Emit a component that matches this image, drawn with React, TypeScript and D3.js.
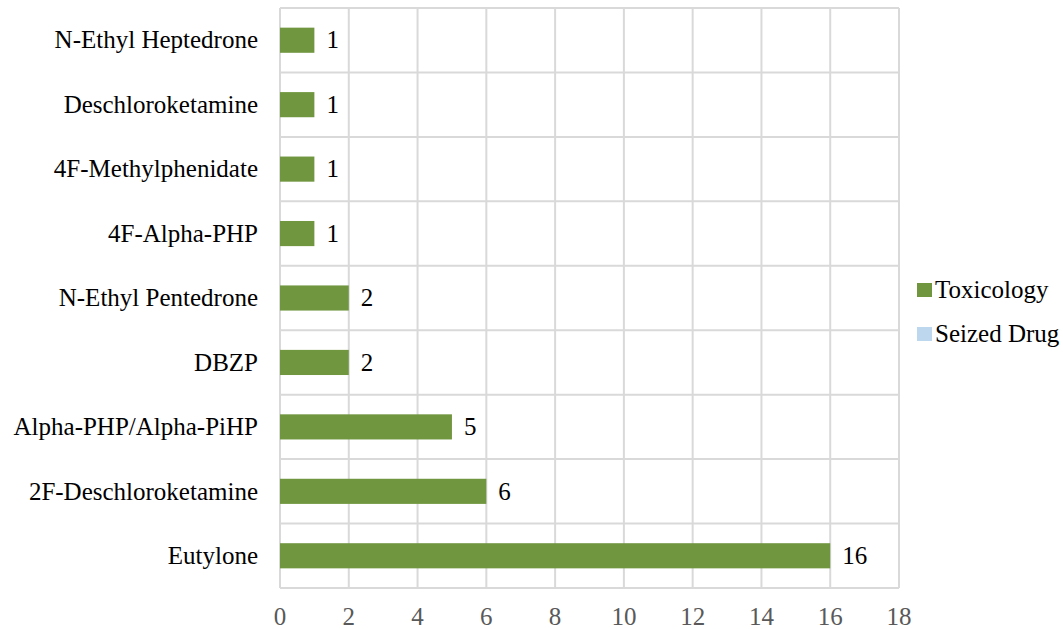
import * as d3 from "d3";
import React from "react";

const WIDTH = 1063;
const HEIGHT = 629;
const MARGIN = { top: 8, right: 164, bottom: 41, left: 280 };

const categories = [
    "N-Ethyl Heptedrone",
    "Deschloroketamine",
    "4F-Methylphenidate",
    "4F-Alpha-PHP",
    "N-Ethyl Pentedrone",
    "DBZP",
    "Alpha-PHP/Alpha-PiHP",
    "2F-Deschloroketamine",
    "Eutylone",
];
const toxicology = [1, 1, 1, 1, 2, 2, 5, 6, 16];
const seizedDrug = [0, 0, 0, 0, 0, 0, 0, 0, 0];
const xTicks = [0, 2, 4, 6, 8, 10, 12, 14, 16, 18];
const seriesNames = ["Toxicology", "Seized Drug"];
const seriesColors = ["#70963f", "#bdd7ee"];

const FONT = "Liberation Serif";
const FS = 25;

const App: React.FC = () => {
    const boundsWidth = WIDTH - MARGIN.left - MARGIN.right;
    const boundsHeight = HEIGHT - MARGIN.top - MARGIN.bottom;

    const xScale = d3.scaleLinear().domain([0, 18]).range([0, boundsWidth]);
    const yScale = d3
        .scaleBand<string>()
        .domain(categories)
        .range([0, boundsHeight]);
    const band = yScale.bandwidth();
    const barH = band * 0.39;

    return (
        <svg width={WIDTH} height={HEIGHT} style={{ position: "absolute", left: 0, top: 0 }}>
            <g transform={`translate(${MARGIN.left},${MARGIN.top})`}>
                {/* vertical gridlines */}
                {xTicks.map((t) => (
                    <line
                        key={"vx" + t}
                        x1={xScale(t)}
                        x2={xScale(t)}
                        y1={0}
                        y2={boundsHeight}
                        stroke="#d9d9d9"
                        strokeWidth={2}
                    />
                ))}
                {/* horizontal category boundaries */}
                {d3.range(categories.length + 1).map((i) => (
                    <line
                        key={"hy" + i}
                        x1={0}
                        x2={boundsWidth}
                        y1={i * band}
                        y2={i * band}
                        stroke="#d9d9d9"
                        strokeWidth={2}
                    />
                ))}
                {categories.map((c, i) => {
                    const y = (yScale(c) || 0) + band / 2 - barH / 2;
                    return (
                        <g key={c}>
                            <rect
                                x={xScale(0)}
                                y={y}
                                width={xScale(toxicology[i]) - xScale(0)}
                                height={barH}
                                fill={seriesColors[0]}
                            />
                            <text
                                x={xScale(toxicology[i]) + 12}
                                y={y + barH / 2}
                                dy="0.33em"
                                fontFamily={FONT}
                                fontSize={FS}
                                fill="#000"
                            >
                                {toxicology[i]}
                            </text>
                            {seizedDrug[i] > 0 && (
                                <rect
                                    x={xScale(0)}
                                    y={y}
                                    width={xScale(seizedDrug[i]) - xScale(0)}
                                    height={barH}
                                    fill={seriesColors[1]}
                                />
                            )}
                            <text
                                x={-22}
                                y={(yScale(c) || 0) + band / 2}
                                dy="0.33em"
                                textAnchor="end"
                                fontFamily={FONT}
                                fontSize={FS}
                                fill="#000"
                            >
                                {c}
                            </text>
                        </g>
                    );
                })}
                {xTicks.map((t) => (
                    <text
                        key={"tx" + t}
                        x={xScale(t)}
                        y={boundsHeight + 29}
                        dy="0.33em"
                        textAnchor="middle"
                        fontFamily={FONT}
                        fontSize={FS}
                        fill="#595959"
                    >
                        {t}
                    </text>
                ))}
            </g>
            {/* legend */}
            {seriesNames.map((s, i) => (
                <g key={s} transform={`translate(917,${283 + i * 44})`}>
                    <rect x={0} y={0} width={15} height={14} fill={seriesColors[i]} />
                    <text x={18} y={7} dy="0.33em" fontFamily={FONT} fontSize={FS} fill="#000">
                        {s}
                    </text>
                </g>
            ))}
        </svg>
    );
};

export default App;
